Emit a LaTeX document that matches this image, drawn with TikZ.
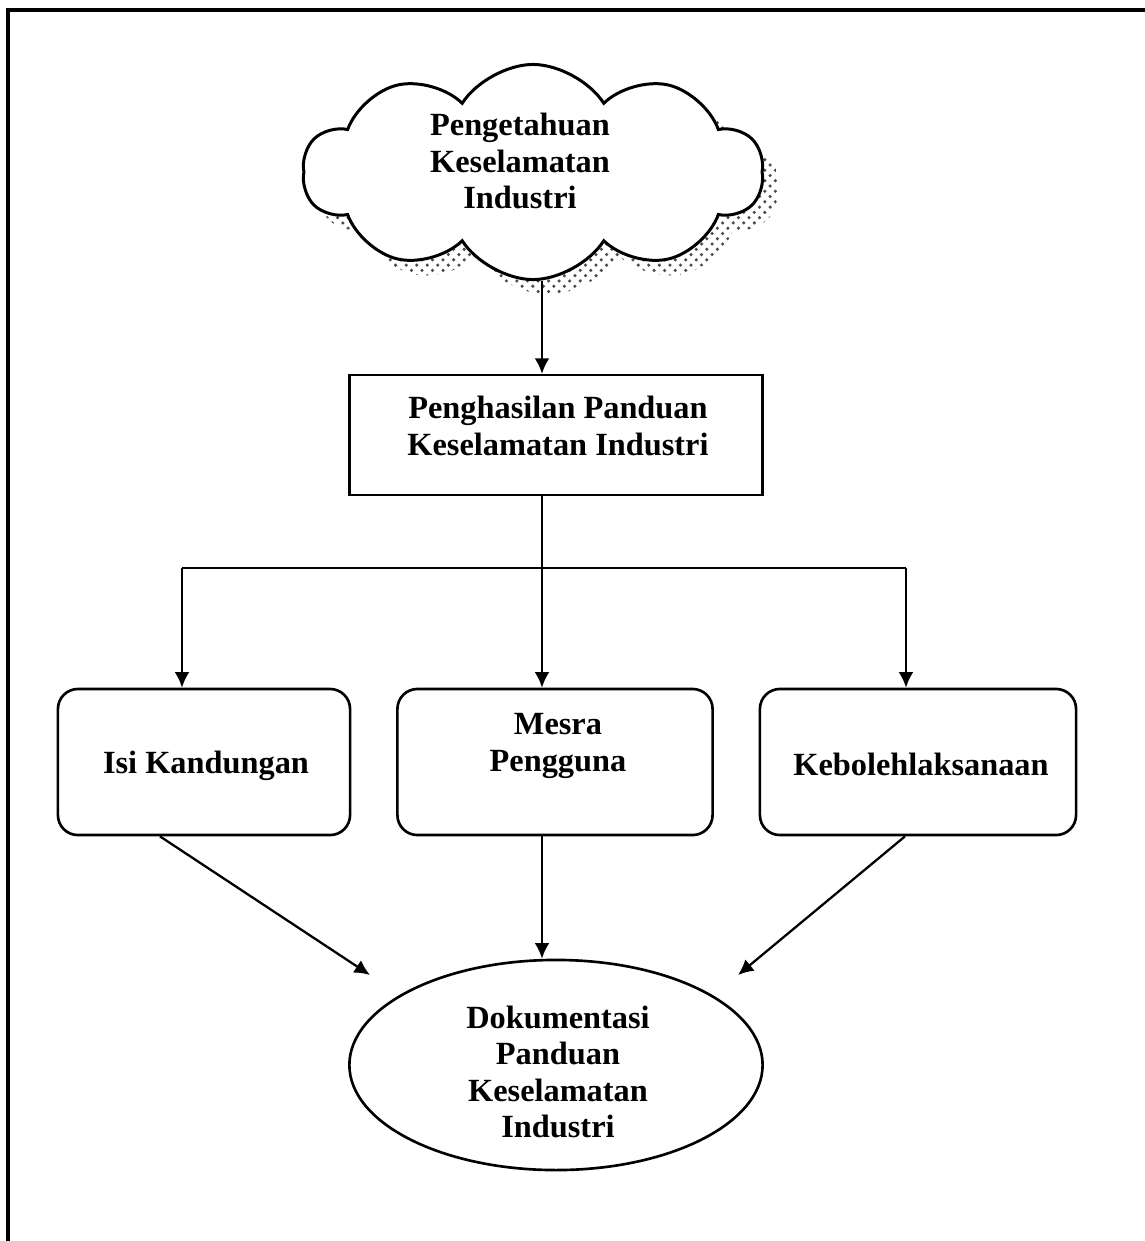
\documentclass[tikz,border=0pt]{standalone}
\usepackage{fontspec}
\setmainfont{Liberation Serif}
\usetikzlibrary{shapes.symbols,shapes.geometric,arrows.meta,patterns}

\begin{document}
\begin{tikzpicture}[x=0.01cm,y=-0.01cm,
    lbl/.style={font=\bfseries\fontsize{9.2}{10.4}\selectfont, align=center, inner sep=0},
    plainbox/.style={draw, line width=0.65pt, minimum width=4.13cm, minimum height=1.2cm},
    roundbox/.style={draw, line width=0.75pt, rounded corners=0.2cm, minimum height=1.46cm},
    puffy/.style={cloud, cloud puffs=10, cloud puff arc=115, cloud ignores aspect,
        minimum width=4.6cm, minimum height=2.15cm, inner sep=0},
    arr/.style={line width=0.65pt, -{Latex[length=4.4pt,width=4.2pt]}},
    link/.style={line width=0.65pt}]
        \useasboundingbox (0,0) rectangle (1144,1241);
        \draw[line width=1.1pt] (8,1280) -- (8,10) -- (1180,10);

        % cloud with dotted shadow
        \node[puffy, draw=none, pattern=crosshatch dots, pattern color=black!70] (cloudshade) at (548,187) {};
        \node[puffy, draw, fill=white, line width=0.85pt] (cloud) at (533,172) {};
        \node[lbl] (know) at (520,161) {Pengetahuan\\Keselamatan\\Industri};

        \node[plainbox] (make) at (556,435) {};
        \node[lbl] (maketxt) at (558,426) {Penghasilan Panduan\\Keselamatan Industri};

        \coordinate (fork) at (542,568);
        \coordinate (forkL) at (182,568);
        \coordinate (forkR) at (906,568);

        \node[roundbox, minimum width=2.92cm] (isi) at (204,762) {};
        \node[lbl] (isitxt) at (206,766) {Isi Kandungan};
        \node[roundbox, minimum width=3.15cm] (mesra) at (555,762) {};
        \node[lbl] (mesratxt) at (558,746) {Mesra\\Pengguna};
        \node[roundbox, minimum width=3.16cm] (boleh) at (918,762) {};
        \node[lbl] (bolehtxt) at (921,764) {Kebolehlaksanaan};

        \node[ellipse, draw, line width=0.75pt, minimum width=4.13cm, minimum height=2.1cm, inner sep=0] (doc) at (556,1065) {};
        \node[lbl] (doctxt) at (558,1072) {Dokumentasi\\Panduan\\Keselamatan\\Industri};

        \coordinate (inL) at (370,975);
        \coordinate (inR) at (738,975);

        \draw[arr] (cloud.south -| fork) -- (make.north -| fork);
        \draw[link] (make.south -| fork) -- (fork);
        \draw[link] (forkL) -- (forkR);
        \draw[arr] (forkL) -- (forkL |- isi.north);
        \draw[arr] (fork) -- (fork |- mesra.north);
        \draw[arr] (forkR) -- (forkR |- boleh.north);

        \draw[arr] ([xshift=-0.44cm]isi.south) -- (inL);
        \draw[arr] (mesra.south -| fork) -- (doc.north -| fork);
        \draw[arr] ([xshift=-0.13cm]boleh.south) -- (inR);
    \end{tikzpicture}
\end{document}
